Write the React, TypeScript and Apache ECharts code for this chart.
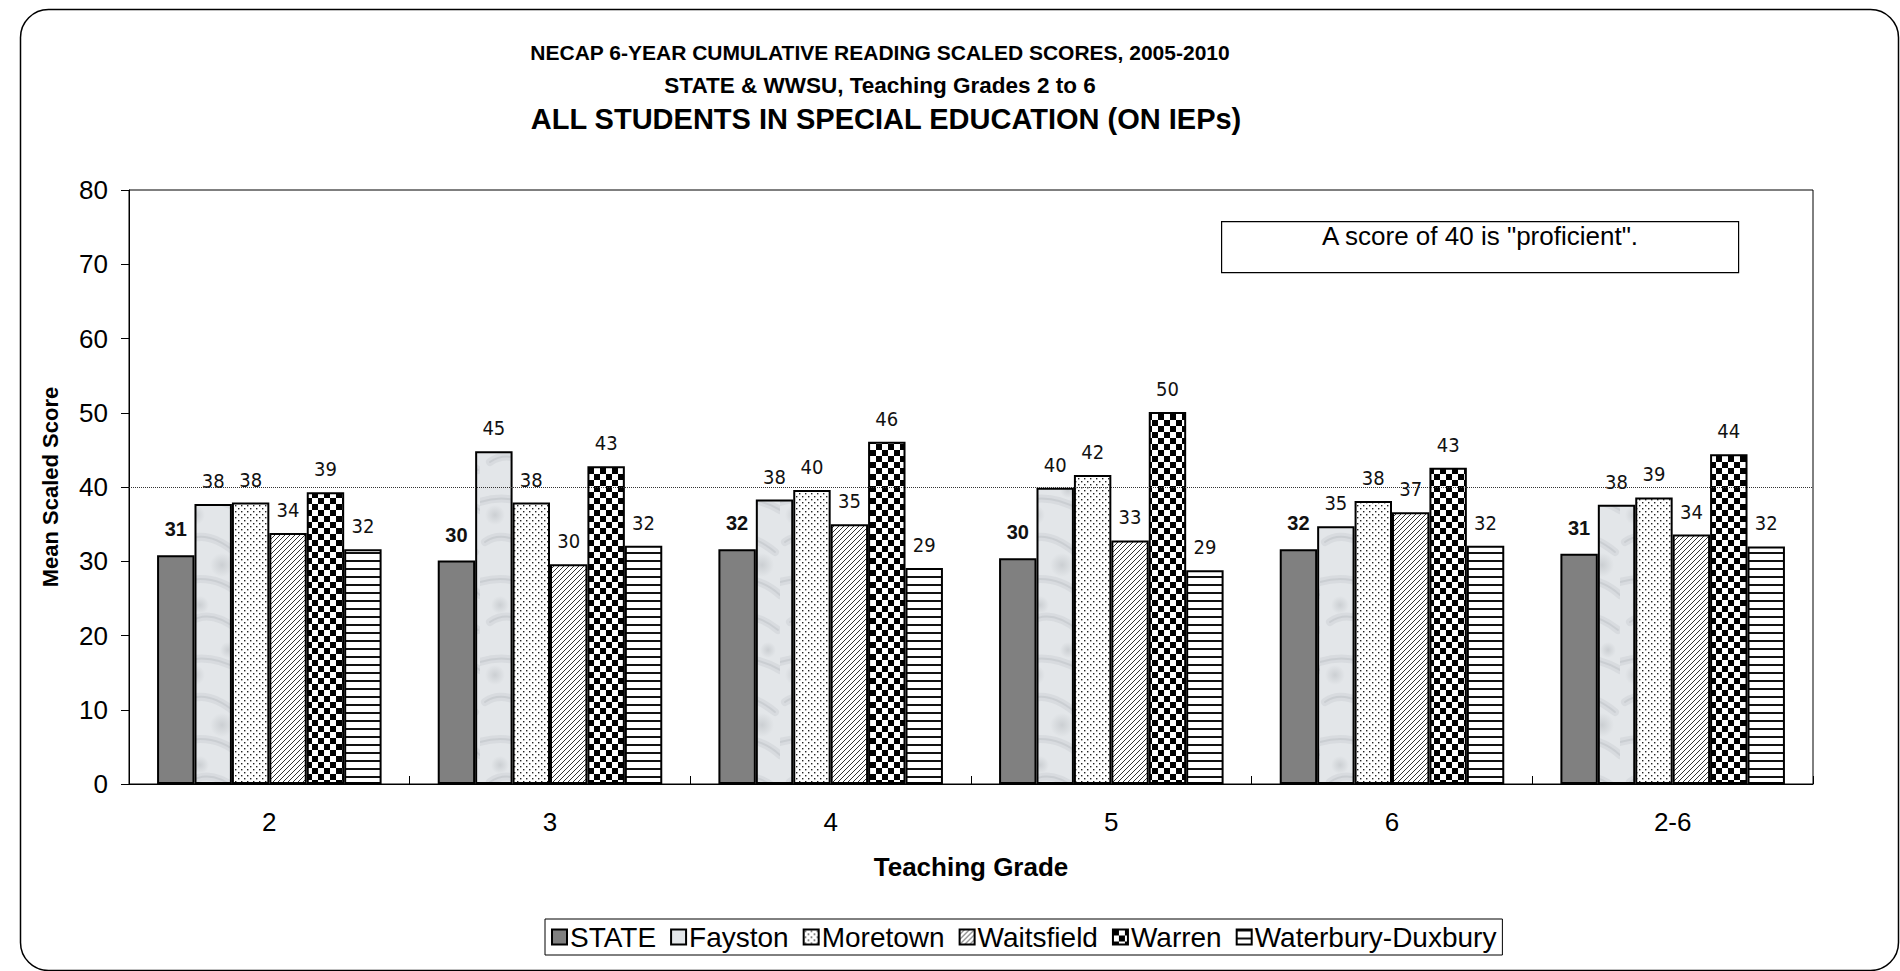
import { useEffect, useRef } from 'react';
import * as echarts from 'echarts';

const categories = ['2', '3', '4', '5', '6', '2-6'];
const seriesNames = ['STATE', 'Fayston', 'Moretown', 'Waitsfield', 'Warren', 'Waterbury-Duxbury'];
const stateValues = [30.8, 30.1, 31.6, 30.4, 31.6, 31.0];
const faystonValues = [37.7, 44.8, 38.3, 39.9, 34.7, 37.6];
const moretownValues = [37.9, 37.9, 39.6, 41.6, 38.1, 38.6];
const waitsfieldValues = [33.8, 29.6, 35.0, 32.8, 36.6, 33.6];
const warrenValues = [39.3, 42.8, 46.1, 50.1, 42.6, 44.4];
const waterburyValues = [31.6, 32.1, 29.1, 28.8, 32.1, 32.0];
const yMin = 0;
const yMax = 80;
const yInterval = 10;
const proficientLevel = 40;
const titleLines = [
  'NECAP 6-YEAR CUMULATIVE READING SCALED SCORES, 2005-2010',
  'STATE & WWSU, Teaching Grades 2 to 6',
  'ALL STUDENTS IN SPECIAL EDUCATION (ON IEPs)',
];
const noteText = 'A score of 40 is "proficient".';
const xAxisName = 'Teaching Grade';
const yAxisName = 'Mean Scaled Score';

const SANS = "'Liberation Sans', Arial, sans-serif";
const NARROW = "'Liberation Sans Narrow', 'Arial Narrow', 'DejaVu Sans Condensed', sans-serif";

function makePattern(w: number, h: number, draw: (ctx: CanvasRenderingContext2D) => void) {
  const c = document.createElement('canvas');
  c.width = w;
  c.height = h;
  const ctx = c.getContext('2d')!;
  draw(ctx);
  return { image: c.toDataURL(), repeat: 'repeat', imageWidth: w, imageHeight: h } as any;
}

function buildPatterns() {
  const marble = makePattern(60, 160, (ctx) => {
    ctx.fillStyle = '#e3e6e9';
    ctx.fillRect(0, 0, 60, 160);
    const streaks = [
      [0, 22, 30, 12, 60, 30],
      [5, 62, 25, 48, 55, 72],
      [0, 102, 35, 92, 60, 115],
      [10, 142, 30, 128, 58, 150],
    ];
    ctx.lineCap = 'round';
    streaks.forEach(([x0, y0, cx, cy, x1, y1]) => {
      ctx.strokeStyle = 'rgba(165,170,175,0.18)';
      ctx.lineWidth = 8;
      ctx.beginPath();
      ctx.moveTo(x0, y0);
      ctx.quadraticCurveTo(cx, cy, x1, y1);
      ctx.stroke();
      ctx.strokeStyle = 'rgba(150,155,160,0.2)';
      ctx.lineWidth = 2;
      ctx.stroke();
    });
    const blobs = [[15, 35, 10], [42, 85, 12], [20, 125, 9], [48, 10, 8]];
    blobs.forEach(([x, y, r]) => {
      const g = ctx.createRadialGradient(x, y, 0, x, y, r);
      g.addColorStop(0, 'rgba(150,155,160,0.3)');
      g.addColorStop(1, 'rgba(150,155,160,0)');
      ctx.fillStyle = g;
      ctx.fillRect(0, 0, 60, 160);
    });
  });
  const dots = makePattern(6, 6, (ctx) => {
    ctx.fillStyle = '#ffffff';
    ctx.fillRect(0, 0, 6, 6);
    ctx.fillStyle = '#222222';
    ctx.fillRect(1, 1, 1.4, 1.4);
    ctx.fillRect(4, 4, 1.4, 1.4);
  });
  const diag = makePattern(5, 5, (ctx) => {
    ctx.fillStyle = '#ffffff';
    ctx.fillRect(0, 0, 5, 5);
    ctx.strokeStyle = '#333333';
    ctx.lineWidth = 1;
    ctx.beginPath();
    ctx.moveTo(0, 5);
    ctx.lineTo(5, 0);
    ctx.moveTo(-1, 1);
    ctx.lineTo(1, -1);
    ctx.moveTo(4, 6);
    ctx.lineTo(6, 4);
    ctx.stroke();
  });
  const checker = makePattern(12, 12, (ctx) => {
    ctx.fillStyle = '#ffffff';
    ctx.fillRect(0, 0, 12, 12);
    ctx.fillStyle = '#000000';
    ctx.fillRect(0, 0, 6, 6);
    ctx.fillRect(6, 6, 6, 6);
  });
  const hlines = makePattern(8, 8, (ctx) => {
    ctx.fillStyle = '#ffffff';
    ctx.fillRect(0, 0, 8, 8);
    ctx.fillStyle = '#111111';
    ctx.fillRect(0, 0, 8, 2);
  });
  return ['#808080', marble, dots, diag, checker, hlines];
}

export default function App() {
  const ref = useRef<HTMLDivElement>(null);

  useEffect(() => {
    document.body.style.margin = '0';
    if (!ref.current) return;
    const chart = echarts.init(ref.current, null, { renderer: 'svg' });
    const fills = buildPatterns();
    const allValues = [stateValues, faystonValues, moretownValues, waitsfieldValues, warrenValues, waterburyValues];

    const series: any[] = seriesNames.map((name, i) => ({
      name,
      type: 'bar',
      data: allValues[i],
      barGap: '0%',
      barCategoryGap: '20%',
      itemStyle: { color: fills[i], borderColor: '#000', borderWidth: 2 },
      label: {
        show: true,
        position: 'top',
        distance: i === 0 ? 16 : 13,
        formatter: (p: any) => String(Math.round(p.value)),
        fontFamily: i === 0 ? SANS : NARROW,
        fontWeight: i === 0 ? 'bold' : 'normal',
        fontSize: i === 0 ? 20 : 20,
        color: '#111',
      },
      emphasis: { disabled: true },
      markLine: i === 0 ? {
        silent: true,
        symbol: 'none',
        label: { show: false },
        lineStyle: { type: 'dotted', color: '#333', width: 1 },
        data: [{ yAxis: proficientLevel }],
      } : undefined,
    }));

    const titleSizes = [21, 22.5, 29];
    const titleTops = [42, 74, 104];
    const titleLefts = [880, 880, 886];

    chart.setOption({
      animation: false,
      backgroundColor: '#fff',
      title: titleLines.map((t, i) => ({
        text: t,
        left: titleLefts[i],
        textAlign: 'center',
        top: titleTops[i],
        padding: 0,
        textStyle: { fontFamily: SANS, fontWeight: 'bold', fontSize: titleSizes[i], color: '#000' },
      })),
      grid: { left: 129, right: 87, top: 190, bottom: 187, show: true, borderColor: '#000', borderWidth: 1 },
      legend: {
        data: seriesNames,
        left: 545,
        top: 919,
        icon: 'rect',
        itemWidth: 15,
        itemHeight: 15,
        itemGap: 14,
        padding: [4, 6],
        borderColor: '#000',
        borderWidth: 1,
        textStyle: { fontFamily: SANS, fontSize: 28, color: '#000', padding: [0, 0, 0, -2] },
      },
      xAxis: {
        type: 'category',
        data: categories,
        name: xAxisName,
        nameLocation: 'middle',
        nameGap: 70,
        nameTextStyle: { fontFamily: SANS, fontWeight: 'bold', fontSize: 26, color: '#000' },
        axisLine: { lineStyle: { color: '#000', width: 1 } },
        axisTick: { show: true, inside: true, length: 8, lineStyle: { color: '#000' } },
        axisLabel: { fontFamily: SANS, fontSize: 26, color: '#000', margin: 25 },
      },
      yAxis: {
        type: 'value',
        min: yMin,
        max: yMax,
        interval: yInterval,
        name: yAxisName,
        nameLocation: 'middle',
        nameGap: 68,
        nameTextStyle: { fontFamily: SANS, fontWeight: 'bold', fontSize: 22, color: '#000' },
        axisLine: { show: true, lineStyle: { color: '#000', width: 1 } },
        axisTick: { show: true, inside: false, length: 8, lineStyle: { color: '#000' } },
        axisLabel: { fontFamily: SANS, fontSize: 26, color: '#000', margin: 21 },
        splitLine: { show: false },
      },
      graphic: [
        {
          type: 'rect',
          left: 18,
          top: 7,
          shape: { width: 1878, height: 961, r: 28 },
          style: { fill: 'none', stroke: '#000', lineWidth: 1.5 },
          silent: true,
          z: -1,
        },
        {
          type: 'rect',
          left: 1221,
          top: 221,
          shape: { width: 517, height: 51 },
          style: { fill: '#fff', stroke: '#000', lineWidth: 1.2 },
          silent: true,
        },
        {
          type: 'text',
          x: 1480,
          y: 236,
          style: {
            text: noteText,
            fontFamily: SANS,
            fontSize: 26,
            fill: '#000',
            align: 'center',
            verticalAlign: 'middle',
          },
          silent: true,
        },
      ],
      series,
    });
    return () => chart.dispose();
  }, []);

  return <div ref={ref} style={{ width: 1900, height: 971 }} />;
}
